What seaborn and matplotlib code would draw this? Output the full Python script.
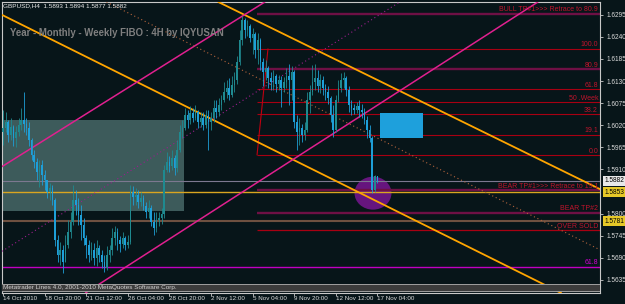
import numpy as np
import matplotlib
matplotlib.use("Agg")
import matplotlib.pyplot as plt
from matplotlib.patches import Rectangle, Ellipse
import matplotlib.transforms as mtransforms
import seaborn as sns
import pandas as pd

# ---------------- data (prices x 10^4) ----------------
first_open_pts = 16003
closes_pts = [16013, 16028, 15996, 16016, 15988, 16003, 16021, 16033, 16023, 16013,
              15983, 15946, 15928, 15904, 15921, 15896, 15884, 15854, 15864, 15834,
              15734, 15697, 15710, 15680, 15722, 15754, 15779, 15834, 15822, 15797,
              15772, 15739, 15722, 15697, 15710, 15690, 15715, 15697, 15680, 15665,
              15697, 15710, 15739, 15754, 15734, 15724, 15739, 15722, 15729, 15854,
              15842, 15847, 15829, 15839, 15819, 15804, 15814, 15779, 15764, 15784,
              15789, 15799, 15909, 15928, 15918, 15938, 15914, 15958, 16003, 16013,
              16046, 16033, 16051, 16038, 16053, 16028, 16038, 16021, 16046, 16028,
              16038, 16063, 16053, 16071, 16083, 16103, 16113, 16096, 16120, 16133,
              16178, 16232, 16282, 16257, 16267, 16237, 16247, 16208, 16232, 16178,
              16153, 16163, 16138, 16128, 16143, 16123, 16133, 16113, 16128, 16143,
              16133, 16153, 16028, 16003, 16013, 15996, 16008, 16083, 16103, 16128,
              16138, 16118, 16133, 16113, 16103, 16088, 16046, 16008, 16083, 16113,
              16133, 16138, 16108, 16071, 16063, 16058, 16068, 16058, 16053, 16033,
              16008, 15988, 15859, 15893, 15882]
highs_pts = [16058, 16053, 16033, 16038, 16021, 16018, 16038, 16063, 16103, 16038,
             16028, 15988, 15958, 15938, 15933, 15933, 15909, 15879, 15877, 15872,
             15839, 15747, 15729, 15722, 15747, 15784, 15804, 15872, 15859, 15839,
             15822, 15789, 15747, 15734, 15729, 15727, 15734, 15722, 15710, 15697,
             15720, 15722, 15764, 15769, 15764, 15744, 15754, 15744, 15747, 15872,
             15869, 15864, 15859, 15854, 15847, 15829, 15834, 15822, 15804, 15804,
             15804, 15814, 15921, 15953, 15943, 15958, 15946, 15983, 16021, 16033,
             16063, 16058, 16068, 16063, 16071, 16058, 16053, 16053, 16058, 16058,
             16053, 16083, 16083, 16088, 16096, 16128, 16133, 16138, 16143, 16153,
             16193, 16257, 16292, 16287, 16282, 16272, 16262, 16252, 16250, 16237,
             16188, 16183, 16168, 16153, 16158, 16148, 16145, 16143, 16140, 16163,
             16173, 16168, 16158, 16046, 16038, 16023, 16028, 16103, 16120, 16170,
             16173, 16158, 16148, 16143, 16123, 16118, 16093, 16071, 16096, 16133,
             16150, 16153, 16143, 16118, 16083, 16073, 16078, 16083, 16073, 16063,
             16043, 16021, 15993, 15897, 15894]
lows_pts = [15971, 16003, 15978, 15983, 15968, 15966, 15993, 16008, 16003, 15996,
            15968, 15933, 15914, 15884, 15867, 15872, 15859, 15839, 15834, 15822,
            15720, 15680, 15673, 15653, 15680, 15715, 15739, 15772, 15797, 15772,
            15734, 15722, 15690, 15680, 15685, 15673, 15670, 15680, 15665, 15655,
            15660, 15680, 15697, 15722, 15710, 15705, 15715, 15710, 15715, 15724,
            15822, 15822, 15814, 15819, 15809, 15789, 15789, 15769, 15747, 15754,
            15769, 15774, 15789, 15904, 15904, 15909, 15896, 15904, 15953, 15988,
            16008, 16013, 16023, 16028, 16033, 16013, 16016, 16008, 16013, 15958,
            16008, 16028, 16038, 16043, 16058, 16078, 16088, 16083, 16091, 16103,
            16123, 16170, 16220, 16237, 16242, 16227, 16198, 16188, 16173, 16158,
            16118, 16133, 16113, 16108, 16108, 16103, 16108, 16066, 16103, 16113,
            16071, 16083, 16013, 15958, 15971, 15978, 15983, 16003, 16051, 16096,
            16108, 16103, 16101, 16096, 16083, 16073, 16028, 15991, 16003, 16078,
            16103, 16113, 16093, 16053, 16046, 16048, 16051, 16041, 16038, 16023,
            15988, 15978, 15852, 15854, 15877]

date_labels = ["14 Oct 2010", "18 Oct 20:00", "21 Oct 12:00", "26 Oct 04:00",
               "28 Oct 20:00", "2 Nov 12:00", "5 Nov 04:00", "9 Nov 20:00",
               "12 Nov 12:00", "17 Nov 04:00"]
date_label_bars = [0, 16, 32, 48, 64, 80, 96, 112, 128, 144]
price_ticks = [1.5635, 1.5690, 1.5745, 1.5800, 1.5910, 1.5965, 1.6020,
               1.6075, 1.6130, 1.6185, 1.6240, 1.6295]
price_tick_labels = ["1.5635", "1.5690", "1.5745", "1.5800", "1.5910", "1.5965", "1.6020",
                     "1.6075", "1.6130", "1.6185", "1.6240", "1.6295"]

# Fibonacci retracement
fib_low, fib_high = 1.5946, 1.6210
fib_start_bar, fib_end_bar = 97.7, 101.9
fib_levels = [0.0, 19.1, 38.2, 50.0, 61.8, 80.9, 100.0]
fib_names = ["0.0", "19.1", "38.2", "50 .Week", "61.8", "80.9", "100.0"]

# target lines starting at the fib
target_prices = [1.6297, 1.5859, 1.5802, 1.5759]
target_names = ["BULL TP#1>>> Retrace to 80.9", "BEAR TP#1>>> Retrace to 19.1",
                "BEAR TP#2", "OVER SOLD"]

# full-width lines
bid_price = 1.5882
gold_price = 1.5853
brown_price = 1.5781
magenta_level = 1.5668
axis_boxes = [(1.5882, "1.5882", "#e8e8e8"), (1.5853, "1.5853", "#e6c828"),
              (1.5781, "1.5781", "#e6c828")]

# trendlines: two (bar, price) anchors each
orange_upper = [(82.7, 1.6327), (229.6, 1.5861)]
orange_lower = [(-1.15, 1.6297), (207.7, 1.5625)]
magenta_a = [(-1.15, 1.5914), (100.8, 1.6327)]
magenta_b = [(35.4, 1.5618), (205.8, 1.6327)]
dotted_brown = [(41.2, 1.6322), (229.6, 1.5710)]
dotted_purple = [(20.0, 1.5789), (152.7, 1.6327)]

# zones
gray_zone = dict(x0=-0.4, x1=69.6, y0=1.58066, y1=1.6033)
blue_zone = dict(x0=145.0, x1=161.5, y0=1.5988, y1=1.6050)
circle_zone = dict(xc=142.3, yc=1.5851, w=14.2, h=0.0082)

# ---------------- styling ----------------
bg = "#071519"
sns.set_style("dark", {"axes.facecolor": bg, "figure.facecolor": bg})
plt.rcParams["font.family"] = ["Liberation Sans", "DejaVu Sans"]

fig = plt.figure(figsize=(6.25, 3.04), dpi=100)
fig.patch.set_facecolor(bg)
ax = fig.add_axes([2 / 625, 11 / 304, 598 / 625, 291 / 304])
ax.set_facecolor(bg)
ax.grid(False)

closes = np.array(closes_pts) / 1e4
highs = np.array(highs_pts) / 1e4
lows = np.array(lows_pts) / 1e4
opens = np.r_[first_open_pts / 1e4, closes[:-1]]
highs = np.maximum(highs, np.maximum(opens, closes))
lows = np.minimum(lows, np.minimum(opens, closes))
bars = np.arange(len(closes))

bull_c = "#1f8a90"
bear_c = "#1e9fd8"
cols = np.where(closes >= opens, bull_c, bear_c)

XMIN, XMAX = -0.385, 229.6
YMIN, YMAX = 1.56026, 1.63266
bt = mtransforms.blended_transform_factory(ax.transAxes, ax.transData)
LBL = 5.0

# zones below candles
ax.add_patch(Rectangle((gray_zone["x0"], gray_zone["y0"]), gray_zone["x1"] - gray_zone["x0"],
                       gray_zone["y1"] - gray_zone["y0"], facecolor="#3d5b5b", edgecolor="none", zorder=1))
ax.add_patch(Ellipse((circle_zone["xc"], circle_zone["yc"]), circle_zone["w"], circle_zone["h"],
                     facecolor="#66157e", edgecolor="none", zorder=1))
ax.add_patch(Rectangle((blue_zone["x0"], blue_zone["y0"]), blue_zone["x1"] - blue_zone["x0"],
                       blue_zone["y1"] - blue_zone["y0"], facecolor="#1ea0dc", edgecolor="none", zorder=3))

# full-width horizontal lines
ax.axhline(bid_price, color="#7c7890", lw=0.8, zorder=2)
ax.axhline(gold_price, color="#d9a520", lw=1.0, zorder=2)
ax.axhline(brown_price, color="#6e5040", lw=1.5, zorder=2)
ax.axhline(magenta_level, color="#c000c0", lw=1.0, zorder=2)

# fib lines
red = "#a80012"
maroon = "#6e1045"
label_red = "#c0142c"
for lvl, name in zip(fib_levels, fib_names):
    p = fib_low + lvl / 100 * (fib_high - fib_low)
    thick = abs(lvl - 80.9) < 0.01
    ax.hlines(p, fib_start_bar, XMAX, color=maroon if thick else red,
              lw=1.7 if thick else 0.8, zorder=2)
    ax.text(0.9967, p + 0.0001, name, transform=bt,
            ha="right", va="bottom", fontsize=LBL, color=label_red, zorder=6)
fib_diag = pd.DataFrame({"bar": [fib_start_bar, fib_end_bar], "price": [fib_low, fib_high]})
sns.lineplot(data=fib_diag, x="bar", y="price", ax=ax, color="#c00010", lw=0.8, zorder=2)

for p, name in zip(target_prices, target_names):
    is_red = name == "OVER SOLD"
    ax.hlines(p, fib_start_bar, XMAX, color=red if is_red else maroon,
              lw=0.9 if is_red else 1.7, zorder=2)
    ax.text(0.9967, p + 0.0001, name, transform=bt,
            ha="right", va="bottom", fontsize=LBL, color=label_red, zorder=6)
ax.text(0.9967, magenta_level + 0.0001, "61.8", transform=bt,
        ha="right", va="bottom", fontsize=LBL, color="#d000d0", zorder=6)

# trendlines
def tl(pts, **kw):
    ax.axline(pts[0], pts[1], **kw)

tl(orange_upper, color="#ffa500", lw=1.3, zorder=3)
tl(orange_lower, color="#ffa500", lw=1.3, zorder=3)
tl(magenta_a, color="#e0208f", lw=1.1, zorder=3)
tl(magenta_b, color="#e0208f", lw=1.1, zorder=3)
tl(dotted_brown, color="#b4643c", lw=0.8, ls=(0, (1, 2.5)), zorder=3)
tl(dotted_purple, color="#9a1e8c", lw=0.8, ls=(0, (1, 2.5)), zorder=3)

# candles
ax.vlines(bars, lows, highs, colors=cols, lw=0.6, zorder=4)
body = np.maximum(np.abs(closes - opens), 0.00008)
ax.bar(bars, body, bottom=np.minimum(opens, closes), width=0.65, color=cols, lw=0, zorder=5)

ax.set_xlim(XMIN, XMAX)
ax.set_ylim(YMIN, YMAX)

# axes frame
for s in ["top", "left", "right", "bottom"]:
    ax.spines[s].set_visible(True)
    ax.spines[s].set_color("#c8c8c8")
    ax.spines[s].set_linewidth(0.8)

ax.yaxis.tick_right()
ax.set_yticks(price_ticks)
ax.set_yticklabels(price_tick_labels)
ax.tick_params(axis="y", which="both", length=2.5, width=0.6, color="#c8c8c8",
               labelcolor="#dcdcdc", labelsize=4.7, pad=2, right=True, left=False)
ax.set_xticks(date_label_bars)
ax.set_xticklabels(date_labels)
for lab in ax.get_xticklabels():
    lab.set_ha("left")
ax.tick_params(axis="x", length=2.0, width=0.6, color="#c8c8c8", labelcolor="#dcdcdc",
               labelsize=4.5, pad=0.4, bottom=True)
ax.set_xlabel("")
ax.set_ylabel("")

# price boxes on the axis
for p, txt, fc in axis_boxes:
    ax.text(1.0075, p, txt, transform=bt, ha="left", va="center", fontsize=4.7,
            color="black", clip_on=False, zorder=10,
            bbox=dict(boxstyle="square,pad=0.25", fc=fc, ec="none"))

# copyright strip
ax.add_patch(Rectangle((0, 0.0069), 1, 0.024, transform=ax.transAxes, facecolor="#3c3c3c",
                       edgecolor="none", zorder=8))
ax.plot([0, 1], [0.0309, 0.0309], transform=ax.transAxes, color="#a0a0a0", lw=0.7, zorder=9)
ax.plot([0, 1], [0.0069, 0.0069], transform=ax.transAxes, color="#a0a0a0", lw=0.7, zorder=9)
ax.text(0.002, 0.019, "Metatrader Lines 4.0, 2001-2010 MetaQuotes Software Corp.",
        transform=ax.transAxes, ha="left", va="center", fontsize=4.6, color="#d0d0d0", zorder=10)

# header and title
ax.text(0.0017, 0.986, "GBPUSD,H4  1.5893 1.5894 1.5877 1.5882", transform=ax.transAxes,
        ha="left", va="center", fontsize=4.6, color="#e8e8e8", zorder=10)
ax.text(0.0134, 0.8935, "Year - Monthly - Weekly FIBO : 4H by IQYUSAN", transform=ax.transAxes,
        ha="left", va="center", fontsize=6.9, fontweight="bold", color="#7f7f7f", zorder=10)

fig.savefig("out.png", dpi=100, facecolor=bg)
